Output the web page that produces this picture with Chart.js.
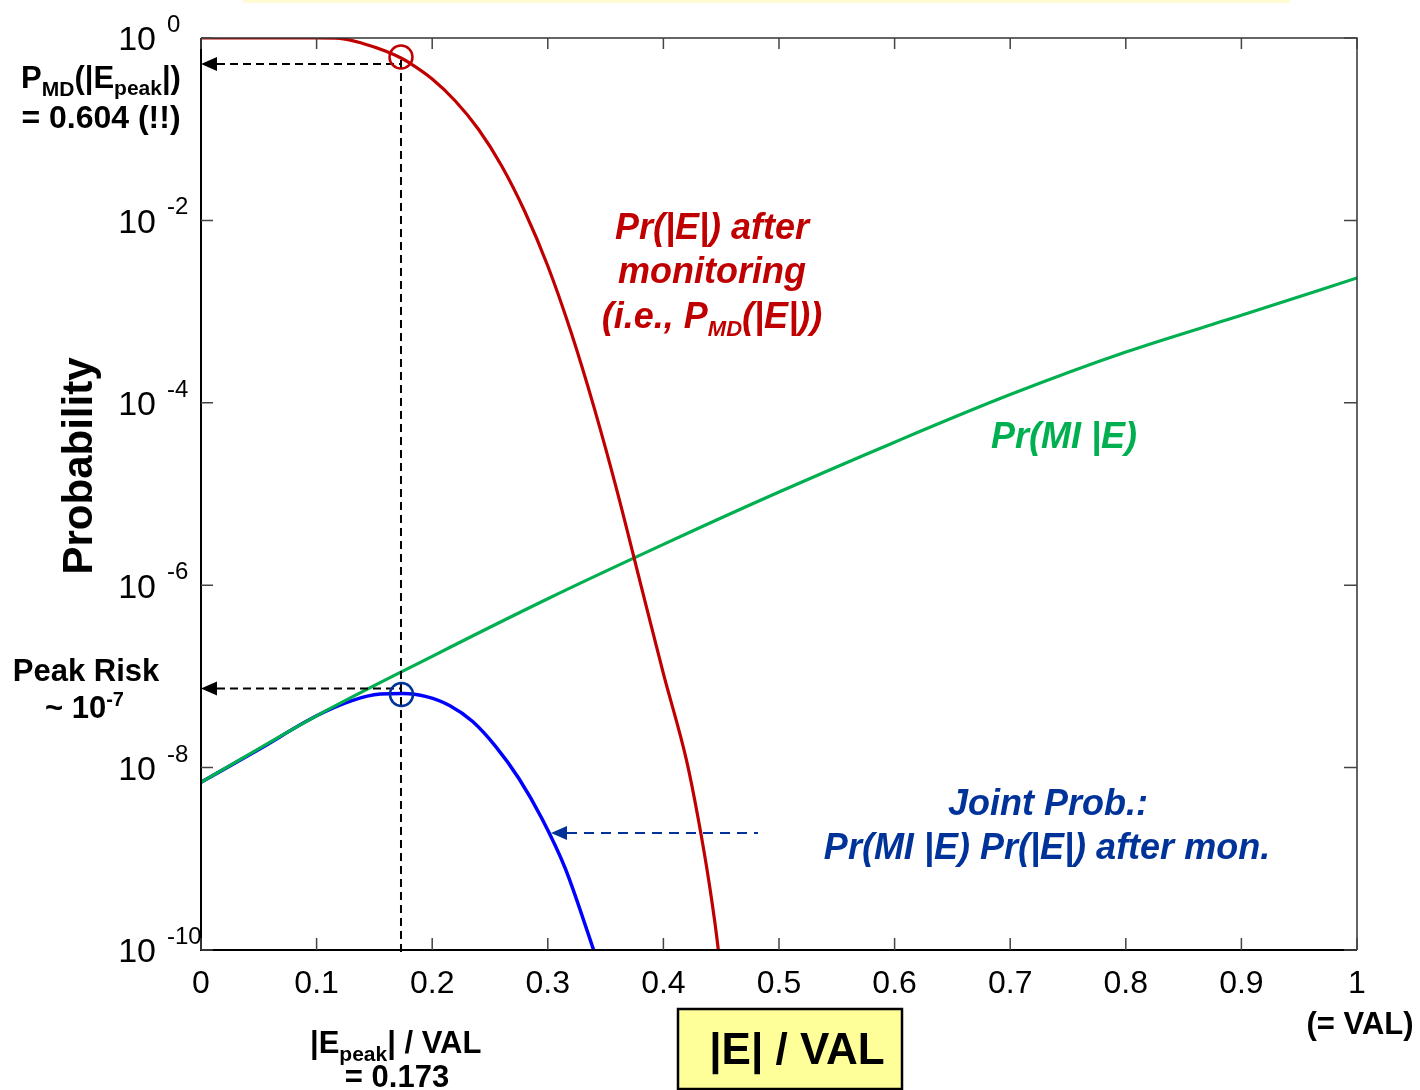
<!DOCTYPE html>
<html>
<head>
<meta charset="utf-8">
<script src="https://cdn.jsdelivr.net/npm/chart.js@4.4.0/dist/chart.umd.min.js"></script>
<style>
  html, body { margin: 0; padding: 0; background: #fff; }
  #wrap { width: 1420px; height: 1090px; position: relative; }
</style>
</head>
<body>
<div id="wrap"><canvas id="chart" width="1420" height="1090"></canvas></div>
<script>
// |E| / VAL  vs  probability
const pmdX = [0, 0.05, 0.1, 0.12, 0.14, 0.16, 0.173, 0.18, 0.2, 0.22, 0.24, 0.26, 0.28, 0.3, 0.32, 0.34, 0.36,
  0.38, 0.4, 0.42, 0.43, 0.44, 0.4475, 0.455];
const pmdY = [1, 1, 1, 0.989, 0.871, 0.716, 0.604, 0.537, 0.355, 0.204, 0.1, 0.0398, 0.0126, 3.16e-3, 6.0e-4,
  8.9e-5, 1.07e-5, 1.07e-6, 1.07e-7, 1.2e-8, 2.8e-9, 5.0e-10, 1.0e-10, 1e-11];

const miX = [0, 0.1, 0.2, 0.3, 0.4, 0.5, 0.6, 0.7, 0.8, 0.9, 1.0];
const miY = [6.9e-9, 3.7e-8, 1.66e-7, 7.1e-7, 2.8e-6, 1.05e-5, 3.7e-5, 1.23e-4, 3.6e-4, 9.1e-4, 2.34e-3];

const jointX = [0, 0.05, 0.1, 0.13, 0.155, 0.175, 0.195, 0.215, 0.235, 0.255, 0.275, 0.295, 0.315, 0.335, 0.35];
const jointY = [6.9e-9, 1.58e-8, 3.7e-8, 5.4e-8, 6.4e-8, 6.5e-8, 6.0e-8, 4.8e-8, 3.2e-8, 1.7e-8, 7.6e-9, 2.75e-9,
  7.9e-10, 1.5e-10, 4e-11];

const xTicks = [0, 0.1, 0.2, 0.3, 0.4, 0.5, 0.6, 0.7, 0.8, 0.9, 1];
const xTickLabels = ['0', '0.1', '0.2', '0.3', '0.4', '0.5', '0.6', '0.7', '0.8', '0.9', '1'];
const yTicks = [1, 1e-2, 1e-4, 1e-6, 1e-8, 1e-10];
const yTickExps = ['0', '-2', '-4', '-6', '-8', '-10'];

const ePeak = 0.173;
const pmdAtPeak = 0.604;
const peakRisk = 6.5e-8;

const FF = '"Liberation Sans", Arial, sans-serif';
const RED = '#c00000', GREEN = '#00b050', BLUE = '#0000ff', NAVY = '#003399';

function pts(xs, ys) {
  return xs.map((x, i) => ({ x: x, y: ys[i] }));
}

function rich(ctx, parts, x, y, align) {
  let w = 0;
  parts.forEach(p => { ctx.font = p.f; p.w = ctx.measureText(p.t).width; w += p.w; });
  let cx = align === 'center' ? x - w / 2 : (align === 'right' ? x - w : x);
  ctx.textAlign = 'left';
  ctx.textBaseline = 'alphabetic';
  parts.forEach(p => { ctx.font = p.f; ctx.fillText(p.t, cx, y + (p.dy || 0)); cx += p.w; });
}

function dashArrow(ctx, x1, x2, yy, color, dash, head) {
  ctx.save();
  ctx.strokeStyle = color;
  ctx.fillStyle = color;
  ctx.lineWidth = 2;
  ctx.setLineDash(dash);
  ctx.beginPath();
  ctx.moveTo(x1 + head, yy);
  ctx.lineTo(x2, yy);
  ctx.stroke();
  ctx.setLineDash([]);
  ctx.beginPath();
  ctx.moveTo(x1, yy);
  ctx.lineTo(x1 + head, yy - 7);
  ctx.lineTo(x1 + head, yy + 7);
  ctx.closePath();
  ctx.fill();
  ctx.restore();
}

const overlay = {
  id: 'overlay',
  beforeDraw(chart) {
    const ctx = chart.ctx;
    ctx.save();
    ctx.fillStyle = '#fff';
    ctx.fillRect(0, 0, chart.width, chart.height);
    // edge of the title box above
    ctx.fillStyle = '#fffbd2';
    ctx.fillRect(243, 0, 1047, 3);
    ctx.restore();
  },
  afterDatasetsDraw(chart) {
    const { ctx, chartArea: a, scales: { x, y } } = chart;
    ctx.save();

    // frame
    ctx.lineWidth = 1.5;
    ctx.strokeStyle = '#333';
    ctx.beginPath();
    ctx.moveTo(a.left, a.top); ctx.lineTo(a.right, a.top); ctx.lineTo(a.right, a.bottom);
    ctx.stroke();
    ctx.lineWidth = 2;
    ctx.strokeStyle = '#000';
    ctx.beginPath();
    ctx.moveTo(a.left, a.top); ctx.lineTo(a.left, a.bottom); ctx.lineTo(a.right, a.bottom);
    ctx.stroke();

    // inward ticks
    ctx.lineWidth = 1.5;
    ctx.strokeStyle = '#444';
    xTicks.forEach(v => {
      const px = x.getPixelForValue(v);
      ctx.beginPath();
      ctx.moveTo(px, a.bottom); ctx.lineTo(px, a.bottom - 12);
      ctx.moveTo(px, a.top); ctx.lineTo(px, a.top + 11);
      ctx.stroke();
    });
    yTicks.forEach(v => {
      const py = y.getPixelForValue(v);
      ctx.beginPath();
      ctx.moveTo(a.left, py); ctx.lineTo(a.left + 12, py);
      ctx.moveTo(a.right, py); ctx.lineTo(a.right - 13, py);
      ctx.stroke();
    });

    // tick labels
    ctx.fillStyle = '#000';
    ctx.font = `32px ${FF}`;
    ctx.textAlign = 'center';
    ctx.textBaseline = 'middle';
    xTicks.forEach((v, i) => {
      ctx.fillText(xTickLabels[i], x.getPixelForValue(v), a.bottom + 34);
    });
    yTicks.forEach((v, i) => {
      const py = y.getPixelForValue(v);
      ctx.font = `34px ${FF}`;
      ctx.textAlign = 'right';
      ctx.textBaseline = 'middle';
      ctx.fillText('10', a.left - 45, py + 3);
      ctx.font = `24px ${FF}`;
      ctx.textAlign = 'left';
      ctx.textBaseline = 'alphabetic';
      ctx.fillText(yTickExps[i], a.left - 34, py - 6);
    });

    // y axis title
    ctx.save();
    ctx.translate(92, 466);
    ctx.rotate(-Math.PI / 2);
    ctx.font = `bold 42px ${FF}`;
    ctx.textAlign = 'center';
    ctx.textBaseline = 'alphabetic';
    ctx.fillText('Probability', 0, 0);
    ctx.restore();

    // peak markers
    const ex = x.getPixelForValue(ePeak);
    const pmdPy = y.getPixelForValue(pmdAtPeak);
    const riskPy = y.getPixelForValue(peakRisk);
    ctx.strokeStyle = '#000';
    ctx.lineWidth = 2;
    ctx.setLineDash([8, 5]);
    ctx.beginPath();
    ctx.moveTo(ex, pmdPy + 2);
    ctx.lineTo(ex, a.bottom + 4);
    ctx.stroke();
    ctx.setLineDash([]);
    dashArrow(ctx, a.left, ex, pmdPy + 6, '#000', [8, 5], 16);
    dashArrow(ctx, a.left, ex, riskPy - 5, '#000', [8, 5], 16);

    ctx.lineWidth = 2.5;
    ctx.strokeStyle = RED;
    ctx.beginPath(); ctx.arc(ex, pmdPy - 1, 11.5, 0, Math.PI * 2); ctx.stroke();
    ctx.strokeStyle = NAVY;
    ctx.beginPath(); ctx.arc(ex + 0.5, riskPy + 1, 11.5, 0, Math.PI * 2); ctx.stroke();

    // blue pointer to joint curve
    dashArrow(ctx, 551, 758, 833, NAVY, [10, 7], 16);

    // left annotations
    ctx.fillStyle = '#000';
    const B31 = `bold 31px ${FF}`, B21 = `bold 21px ${FF}`;
    rich(ctx, [{ t: 'P', f: B31 }, { t: 'MD', f: B21, dy: 8 }, { t: '(|E', f: B31 }, { t: 'peak', f: B21, dy: 7 },
      { t: '|)', f: B31 }], 101, 88, 'center');
    rich(ctx, [{ t: '= 0.604 (!!)', f: `bold 32px ${FF}` }], 101, 128, 'center');
    rich(ctx, [{ t: 'Peak Risk', f: B31 }], 86, 681, 'center');
    rich(ctx, [{ t: '~ 10', f: B31 }, { t: '-7', f: `bold 20px ${FF}`, dy: -12 }], 45, 718, 'left');
    rich(ctx, [{ t: '|E', f: B31 }, { t: 'peak', f: B21, dy: 8 }, { t: '| / VAL', f: B31 }], 310, 1053, 'left');
    rich(ctx, [{ t: '= 0.173', f: B31 }], 397, 1087, 'center');
    rich(ctx, [{ t: '(= VAL)', f: `bold 31px ${FF}` }], 1360, 1034, 'center');

    // x axis title box
    ctx.fillStyle = '#ffff99';
    ctx.fillRect(678, 1009, 224, 80);
    ctx.strokeStyle = '#000';
    ctx.lineWidth = 2.5;
    ctx.strokeRect(678, 1009, 224, 80);
    ctx.fillStyle = '#000';
    rich(ctx, [{ t: '|E| / VAL', f: `bold 44px ${FF}` }], 797, 1064, 'center');

    // curve labels
    const BI36 = `italic bold 36px ${FF}`, BI22 = `italic bold 22px ${FF}`;
    ctx.fillStyle = RED;
    rich(ctx, [{ t: 'Pr(|E|) after', f: BI36 }], 712, 239, 'center');
    rich(ctx, [{ t: 'monitoring', f: BI36 }], 712, 283, 'center');
    rich(ctx, [{ t: '(i.e., P', f: BI36 }, { t: 'MD', f: BI22, dy: 8 }, { t: '(|E|))', f: BI36 }], 712, 328, 'center');
    ctx.fillStyle = GREEN;
    rich(ctx, [{ t: 'Pr(MI |E)', f: BI36 }], 1064, 448, 'center');
    ctx.fillStyle = NAVY;
    rich(ctx, [{ t: 'Joint Prob.:', f: BI36 }], 1048, 815, 'center');
    rich(ctx, [{ t: 'Pr(MI |E) Pr(|E|) after mon.', f: BI36 }], 1047, 859, 'center');

    ctx.restore();
  }
};

new Chart(document.getElementById('chart').getContext('2d'), {
  type: 'line',
  data: {
    datasets: [
      { label: 'Pr(|E|) after monitoring', data: pts(pmdX, pmdY), borderColor: RED, borderWidth: 3.2 },
      { label: 'Pr(MI |E)', data: pts(miX, miY), borderColor: GREEN, borderWidth: 3.2 },
      { label: 'Joint Prob.', data: pts(jointX, jointY), borderColor: BLUE, borderWidth: 3.5 },
    ],
  },
  options: {
    responsive: false,
    devicePixelRatio: 1,
    animation: false,
    elements: {
      point: { radius: 0, hoverRadius: 0 },
      line: { cubicInterpolationMode: 'monotone', fill: false },
    },
    layout: { padding: { left: 201, top: 38, right: 63, bottom: 140 } },
    plugins: { legend: { display: false }, tooltip: { enabled: false } },
    scales: {
      x: { type: 'linear', min: 0, max: 1, display: false },
      y: { type: 'logarithmic', min: 1e-10, max: 1, display: false },
    },
  },
  plugins: [overlay],
});
</script>
</body>
</html>
